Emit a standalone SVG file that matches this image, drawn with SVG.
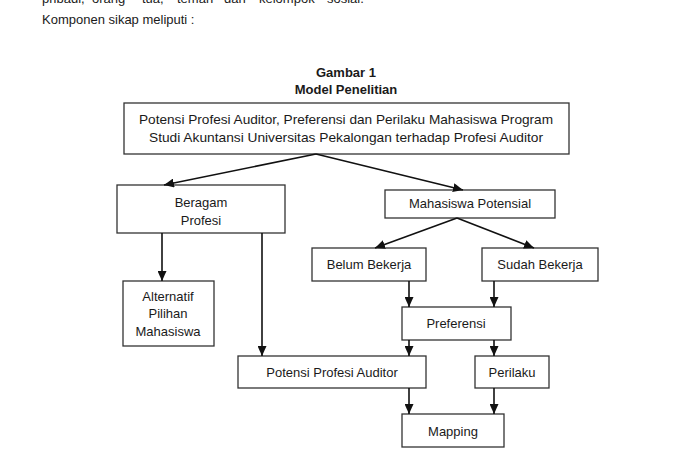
<svg xmlns="http://www.w3.org/2000/svg" width="676" height="455" viewBox="0 0 676 455">
<style>
text{font-family:"Liberation Sans",Arial,sans-serif;font-size:13px;fill:#1a1a1a}
.c{text-anchor:middle}
.b{font-weight:bold}
.box{fill:#fff;stroke:#333;stroke-width:1.3}
.con line{stroke:#111;stroke-width:1.6}
</style>
<defs>
<marker id="ah" markerUnits="userSpaceOnUse" markerWidth="10" markerHeight="9" refX="10" refY="4.5" orient="auto">
<path d="M0,0 L10,4.5 L0,9 z" fill="#111"/>
</marker>
</defs>
<rect width="676" height="455" fill="#fff"/>
<g id="paragraph">
<text y="3"><tspan x="42">pribadi,</tspan><tspan x="92">orang</tspan><tspan x="142">tua,</tspan><tspan x="177">teman</tspan><tspan x="224">dan</tspan><tspan x="259">kelompok</tspan><tspan x="327">sosial.</tspan></text>
<text x="42" y="24">Komponen sikap meliputi :</text>
</g>
<g id="title">
<text class="c b" x="346" y="77">Gambar 1</text>
<text class="c b" x="346" y="94">Model Penelitian</text>
</g>
<g id="n-top">
<rect class="box" x="124" y="103" width="445" height="51"/>
<text class="c" x="346" y="124" textLength="414" lengthAdjust="spacingAndGlyphs">Potensi Profesi Auditor, Preferensi dan Perilaku Mahasiswa Program</text>
<text class="c" x="346" y="142" textLength="394" lengthAdjust="spacingAndGlyphs">Studi Akuntansi Universitas Pekalongan terhadap Profesi Auditor</text>
</g>
<g id="n-beragam">
<rect class="box" x="117" y="185" width="168" height="48"/>
<text class="c" x="201" y="207">Beragam</text>
<text class="c" x="201" y="225">Profesi</text>
</g>
<g id="n-mahasiswa">
<rect class="box" x="385" y="190" width="170" height="28"/>
<text class="c" x="470" y="208">Mahasiswa Potensial</text>
</g>
<g id="n-belum">
<rect class="box" x="312" y="248" width="114" height="33"/>
<text class="c" x="369" y="269">Belum Bekerja</text>
</g>
<g id="n-sudah">
<rect class="box" x="482" y="248" width="116" height="33"/>
<text class="c" x="540" y="269">Sudah Bekerja</text>
</g>
<g id="n-alternatif">
<rect class="box" x="123" y="281" width="91" height="65"/>
<text class="c" x="168" y="301">Alternatif</text>
<text class="c" x="168" y="318">Pilihan</text>
<text class="c" x="168" y="336">Mahasiswa</text>
</g>
<g id="n-preferensi">
<rect class="box" x="402" y="307" width="109" height="33"/>
<text class="c" x="456" y="328">Preferensi</text>
</g>
<g id="n-potensi">
<rect class="box" x="238" y="356" width="188" height="32"/>
<text class="c" x="332" y="377">Potensi Profesi Auditor</text>
</g>
<g id="n-perilaku">
<rect class="box" x="475" y="356" width="74" height="32"/>
<text class="c" x="512" y="377">Perilaku</text>
</g>
<g id="n-mapping">
<rect class="box" x="402" y="414" width="102" height="33"/>
<text class="c" x="453" y="436">Mapping</text>
</g>
<g id="connectors" class="con">
<line x1="316" y1="154" x2="164" y2="185" marker-end="url(#ah)"/>
<line x1="316" y1="154" x2="463" y2="190" marker-end="url(#ah)"/>
<line x1="457" y1="218" x2="375" y2="248" marker-end="url(#ah)"/>
<line x1="457" y1="218" x2="534" y2="248" marker-end="url(#ah)"/>
<line x1="162" y1="233" x2="162" y2="281" marker-end="url(#ah)"/>
<line x1="262" y1="233" x2="262" y2="356" marker-end="url(#ah)"/>
<line x1="409" y1="281" x2="409" y2="307" marker-end="url(#ah)"/>
<line x1="494" y1="281" x2="494" y2="307" marker-end="url(#ah)"/>
<line x1="409" y1="340" x2="409" y2="356" marker-end="url(#ah)"/>
<line x1="494" y1="340" x2="494" y2="356" marker-end="url(#ah)"/>
<line x1="409" y1="388" x2="409" y2="414" marker-end="url(#ah)"/>
<line x1="494" y1="388" x2="494" y2="414" marker-end="url(#ah)"/>
</g>
</svg>
